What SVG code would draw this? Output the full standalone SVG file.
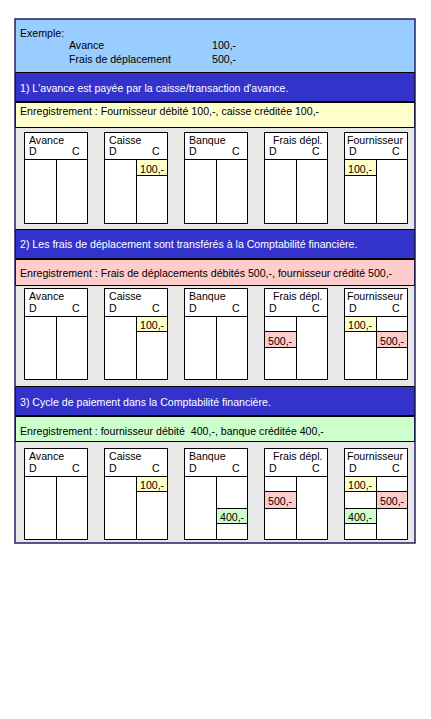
<svg xmlns="http://www.w3.org/2000/svg" width="431" height="719" viewBox="0 0 431 719">
<style>
text{font-family:"Liberation Sans",Arial,sans-serif;font-size:10.6px;fill:#000}
.w{fill:#fff}
.pre{white-space:pre}
.bar{fill:#3333cc;stroke:#000;stroke-width:1}
.acc{fill:#fff;stroke:#000;stroke-width:1}
.ln{stroke:#000;stroke-width:1;fill:none}
.y{fill:#ffffcc;stroke:#000;stroke-width:1}
.p{fill:#ffcccc;stroke:#000;stroke-width:1}
.g{fill:#ccffcc;stroke:#000;stroke-width:1}
</style>
<rect x="0" y="0" width="431" height="719" fill="#fff"/>
<g id="frame">
<rect x="15" y="19" width="400" height="524" fill="#e8e8e8"/>
<rect x="15" y="19" width="400" height="53" fill="#99ccff"/>
<text x="20" y="37">Exemple:</text>
<text x="69" y="49">Avance</text>
<text x="69" y="63">Frais de déplacement</text>
<text x="212" y="49">100,-</text>
<text x="212" y="63">500,-</text>
</g>
<g id="section1">
<rect class="bar" x="15.5" y="72.5" width="399" height="29"/>
<text class="w" x="20" y="92">1) L'avance est payée par la caisse/transaction d'avance.</text>
<rect x="15.5" y="102.5" width="399" height="25" fill="#ffffcc" stroke="#000"/>
<text x="20" y="115">Enregistrement : Fournisseur débité 100,-, caisse créditée 100,-</text>
</g>
<g id="section2">
<rect class="bar" x="15.5" y="229.5" width="399" height="29"/>
<text class="w" x="20" y="248">2) Les frais de déplacement sont transférés à la Comptabilité financière.</text>
<rect x="15.5" y="259.5" width="399" height="26" fill="#ffcccc" stroke="#000"/>
<text x="20" y="277">Enregistrement : Frais de déplacements débités 500,-, fournisseur crédité 500,-</text>
</g>
<g id="section3">
<rect class="bar" x="15.5" y="386.5" width="399" height="29"/>
<text class="w" x="20" y="406">3) Cycle de paiement dans la Comptabilité financière.</text>
<rect x="15.5" y="416.5" width="399" height="25" fill="#ccffcc" stroke="#000"/>
<text class="pre" x="20" y="435" xml:space="preserve">Enregistrement : fournisseur débité  400,-, banque créditée 400,-</text>
</g>
<g id="accounts1">
<g id="a1-avance"><rect class="acc" x="24.5" y="132.5" width="63" height="91"/><path class="ln" d="M24.5 159.5H87.5M56.5 159.5V223.5"/><text x="29" y="144">Avance</text><text x="29" y="155">D</text><text x="72" y="155">C</text></g>
<g id="a1-caisse"><rect class="acc" x="104.5" y="132.5" width="63" height="91"/><path class="ln" d="M104.5 159.5H167.5M136.5 159.5V223.5"/><text x="109" y="144">Caisse</text><text x="109" y="155">D</text><text x="152" y="155">C</text>
<rect class="y" x="136.5" y="159.5" width="31" height="16"/><text x="140" y="173">100,-</text></g>
<g id="a1-banque"><rect class="acc" x="184.5" y="132.5" width="63" height="91"/><path class="ln" d="M184.5 159.5H247.5M216.5 159.5V223.5"/><text x="189" y="144">Banque</text><text x="189" y="155">D</text><text x="232" y="155">C</text></g>
<g id="a1-frais"><rect class="acc" x="264.5" y="132.5" width="63" height="91"/><path class="ln" d="M264.5 159.5H327.5M296.5 159.5V223.5"/><text x="273" y="144">Frais dépl.</text><text x="269" y="155">D</text><text x="312" y="155">C</text></g>
<g id="a1-fourn"><rect class="acc" x="344.5" y="132.5" width="63" height="91"/><path class="ln" d="M344.5 159.5H407.5M376.5 159.5V223.5"/><text x="347" y="144">Fournisseur</text><text x="349" y="155">D</text><text x="392" y="155">C</text>
<rect class="y" x="344.5" y="159.5" width="32" height="16"/><text x="348" y="173">100,-</text></g>
</g>
<g id="accounts2">
<g id="a2-avance"><rect class="acc" x="24.5" y="288.5" width="63" height="91"/><path class="ln" d="M24.5 316.5H87.5M56.5 316.5V379.5"/><text x="29" y="300">Avance</text><text x="29" y="312">D</text><text x="72" y="312">C</text></g>
<g id="a2-caisse"><rect class="acc" x="104.5" y="288.5" width="63" height="91"/><path class="ln" d="M104.5 316.5H167.5M136.5 316.5V379.5"/><text x="109" y="300">Caisse</text><text x="109" y="312">D</text><text x="152" y="312">C</text>
<rect class="y" x="136.5" y="316.5" width="31" height="15"/><text x="140" y="329">100,-</text></g>
<g id="a2-banque"><rect class="acc" x="184.5" y="288.5" width="63" height="91"/><path class="ln" d="M184.5 316.5H247.5M216.5 316.5V379.5"/><text x="189" y="300">Banque</text><text x="189" y="312">D</text><text x="232" y="312">C</text></g>
<g id="a2-frais"><rect class="acc" x="264.5" y="288.5" width="63" height="91"/><path class="ln" d="M264.5 316.5H327.5M296.5 316.5V379.5"/><text x="273" y="300">Frais dépl.</text><text x="269" y="312">D</text><text x="312" y="312">C</text>
<rect class="p" x="264.5" y="331.5" width="32" height="16"/><text x="268" y="345">500,-</text></g>
<g id="a2-fourn"><rect class="acc" x="344.5" y="288.5" width="63" height="91"/><path class="ln" d="M344.5 316.5H407.5M376.5 316.5V379.5"/><text x="347" y="300">Fournisseur</text><text x="349" y="312">D</text><text x="392" y="312">C</text>
<rect class="y" x="344.5" y="316.5" width="32" height="15"/><text x="348" y="329">100,-</text>
<rect class="p" x="376.5" y="331.5" width="31" height="16"/><text x="380" y="345">500,-</text></g>
</g>
<g id="accounts3">
<g id="a3-avance"><rect class="acc" x="24.5" y="448.5" width="63" height="91"/><path class="ln" d="M24.5 476.5H87.5M56.5 476.5V539.5"/><text x="29" y="460">Avance</text><text x="29" y="472">D</text><text x="72" y="472">C</text></g>
<g id="a3-caisse"><rect class="acc" x="104.5" y="448.5" width="63" height="91"/><path class="ln" d="M104.5 476.5H167.5M136.5 476.5V539.5"/><text x="109" y="460">Caisse</text><text x="109" y="472">D</text><text x="152" y="472">C</text>
<rect class="y" x="136.5" y="476.5" width="31" height="15"/><text x="140" y="489">100,-</text></g>
<g id="a3-banque"><rect class="acc" x="184.5" y="448.5" width="63" height="91"/><path class="ln" d="M184.5 476.5H247.5M216.5 476.5V539.5"/><text x="189" y="460">Banque</text><text x="189" y="472">D</text><text x="232" y="472">C</text>
<rect class="g" x="216.5" y="508.5" width="31" height="15"/><text x="220" y="521">400,-</text></g>
<g id="a3-frais"><rect class="acc" x="264.5" y="448.5" width="63" height="91"/><path class="ln" d="M264.5 476.5H327.5M296.5 476.5V539.5"/><text x="273" y="460">Frais dépl.</text><text x="269" y="472">D</text><text x="312" y="472">C</text>
<rect class="p" x="264.5" y="491.5" width="32" height="17"/><text x="268" y="505">500,-</text></g>
<g id="a3-fourn"><rect class="acc" x="344.5" y="448.5" width="63" height="91"/><path class="ln" d="M344.5 476.5H407.5M376.5 476.5V539.5"/><text x="347" y="460">Fournisseur</text><text x="349" y="472">D</text><text x="392" y="472">C</text>
<rect class="y" x="344.5" y="476.5" width="32" height="15"/><text x="348" y="489">100,-</text>
<rect class="p" x="376.5" y="491.5" width="31" height="17"/><text x="380" y="505">500,-</text>
<rect class="g" x="344.5" y="508.5" width="32" height="15"/><text x="348" y="521">400,-</text></g>
</g>
<rect x="15" y="19" width="400" height="524" fill="none" stroke="#222266" stroke-width="1.5"/>
</svg>
